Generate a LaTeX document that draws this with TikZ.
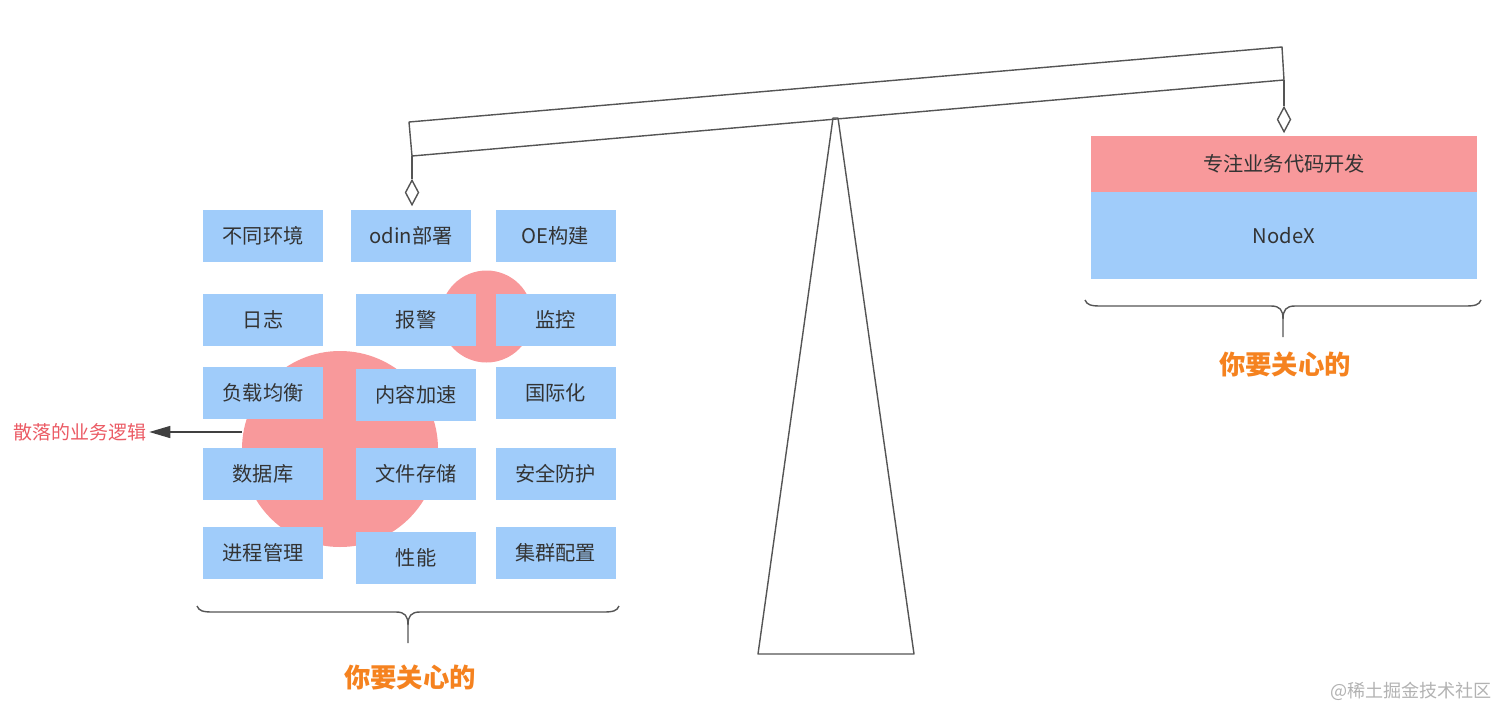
\documentclass[tikz,border=0pt]{standalone}
\usepackage{fontspec}
\usepackage{xcolor}
\usepackage{tikz}
\usetikzlibrary{arrows.meta,shapes.geometric}
\newfontfamily\cjk{Noto Sans CJK SC}
\definecolor{svcblue}{HTML}{A0CCFA}
\definecolor{hotpink}{HTML}{F8999B}
\definecolor{careorg}{HTML}{F5821F}
\definecolor{logicred}{HTML}{EB5A64}
\definecolor{ln}{HTML}{555555}
\tikzset{
  svc/.style={fill=svcblue,minimum width=24mm,minimum height=10.4mm,inner sep=0pt,text=black!80,font=\cjk\fontsize{11.5}{14}\selectfont},
  blob/.style={circle,fill=hotpink,inner sep=0pt},
  beam/.style={draw=ln,line width=0.8pt,line join=round},
  hook/.style={diamond,draw=ln,fill=white,line width=0.8pt,minimum width=2.7mm,minimum height=5mm,inner sep=0pt},
  brc/.style={draw=ln,line width=0.8pt},
  arr/.style={draw=black!75,line width=0.8pt,-{Triangle[length=4.2mm,width=2.4mm]}},
  care/.style={text=careorg,font=\cjk\bfseries\fontsize{15}{18}\selectfont}
}
\newcommand{\careBrace}[3]{%
  \pgfmathsetmacro{\bmid}{(#1+#2)/2}
  \draw[brc] (#1,#3) .. controls (#1+2,#3+5) and (#1+6,#3+6) .. (#1+16,#3+6) -- (\bmid-12,#3+6) .. controls (\bmid-3,#3+6) and (\bmid,#3+10) .. (\bmid,#3+19) -- (\bmid,#3+37);
  \draw[brc] (#2,#3) .. controls (#2-2,#3+5) and (#2-6,#3+6) .. (#2-16,#3+6) -- (\bmid+12,#3+6) .. controls (\bmid+3,#3+6) and (\bmid,#3+10) .. (\bmid,#3+19);
}

\begin{document}
\begin{tikzpicture}[x=0.2mm,y=-0.2mm]
\useasboundingbox (0,0) rectangle (1512,721);
\node[blob,minimum size=39.2mm] (scatter) at (340,449) {};
\node[blob,minimum size=18.4mm] (scatter2) at (486.5,316.5) {};
\node[svc] (env) at (263,235.5) {不同环境};
\node[svc] (odin) at (411,235.5) {odin部署};
\node[svc] (oe) at (555.5,235.5) {OE构建};
\node[svc] (log) at (263,319.5) {日志};
\node[svc] (alarm) at (416,319.5) {报警};
\node[svc] (monitor) at (555.5,319.5) {监控};
\node[svc] (lb) at (263,393) {负载均衡};
\node[svc] (cdn) at (416,395) {内容加速};
\node[svc] (i18n) at (555.5,393) {国际化};
\node[svc] (db) at (263,474) {数据库};
\node[svc] (fs) at (416,474) {文件存储};
\node[svc] (sec) at (555.5,474) {安全防护};
\node[svc] (proc) at (263,553) {进程管理};
\node[svc] (perf) at (416,557.5) {性能};
\node[svc] (cluster) at (555.5,553) {集群配置};
\node[text=logicred,font=\cjk\fontsize{10.8}{13}\selectfont,inner sep=0.5mm] (logic) at (80,432) {散落的业务逻辑};
\draw[arr] (scatter.west |- logic) -- (logic);
\careBrace{197}{619}{606}
\node[care] (careL) at (410,677) {你要关心的};
\draw[beam] (833,118) -- (838,118) -- (914,654) -- (758,654) -- cycle;
\coordinate (beamTL) at (409,122);
\coordinate (beamTR) at (1282,47);
\coordinate (beamBR) at (1284,80);
\coordinate (beamBL) at (412,156);
\draw[beam] (beamTL) -- (beamTR) -- (beamBR) -- (beamBL) -- cycle;
\node[hook] (hookL) at (412,192.5) {};
\draw[beam] (beamBL) -- (hookL.north);
\node[hook] (hookR) at (1284,119.5) {};
\draw[beam] (beamBR) -- (hookR.north);
\node[svc,fill=hotpink,minimum width=77.2mm,minimum height=11.2mm] (focus) at (1284,164) {专注业务代码开发};
\node[svc,minimum width=77.2mm,minimum height=17.4mm] (nodex) at (1284,235.5) {NodeX};
\careBrace{1085}{1481}{300}
\node[care] (careR) at (1285,365) {你要关心的};
\node[text=black!30,font=\cjk\fontsize{10.3}{12}\selectfont] (mark) at (1411,691) {@稀土掘金技术社区};
\end{tikzpicture}
\end{document}
